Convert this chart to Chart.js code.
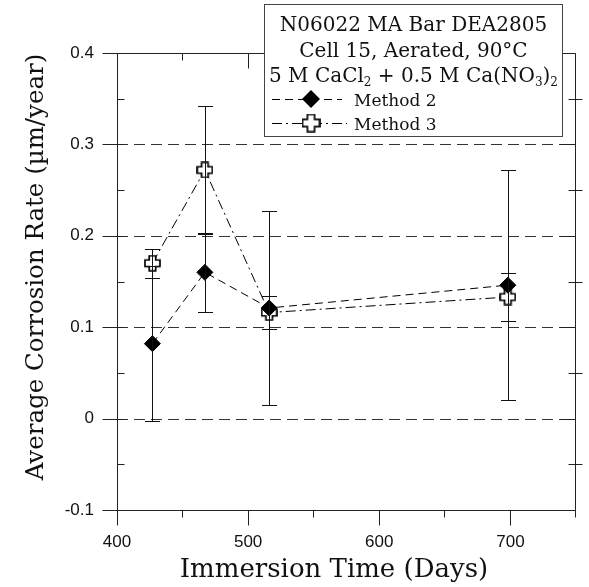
<!DOCTYPE html>
<html><head><meta charset="utf-8">
<script src="https://cdn.jsdelivr.net/npm/chart.js@4/dist/chart.umd.min.js"></script>
<style>
html,body{margin:0;padding:0;background:#fff;}
#wrap{position:relative;width:589px;height:587px;}
#c{position:absolute;left:0;top:0;}
#legend{position:absolute;left:264px;top:4px;width:297px;height:131px;border:1px solid #444;background:#fff;font-family:"DejaVu Serif",serif;color:#111;}
#legend .t{position:absolute;left:0;width:100%;text-align:center;font-size:20px;line-height:20px;white-space:nowrap;}
#legend .m{position:absolute;left:89px;font-size:17px;line-height:17px;white-space:nowrap;}
#legend sub{font-size:12px;vertical-align:-4px;line-height:0;}
#lc{position:absolute;left:0;top:0;}
</style></head>
<body>
<div id="wrap">
<canvas id="c" width="589" height="587"></canvas>
<div id="legend">
<canvas id="lc" width="297" height="131"></canvas>
<div class="t" style="top:9px">N06022 MA Bar DEA2805</div>
<div class="t" style="top:35px">Cell 15, Aerated, 90°C</div>
<div class="t" style="top:60px">5 M CaCl<sub>2</sub> + 0.5 M Ca(NO<sub>3</sub>)<sub>2</sub></div>
<div class="m" style="top:87px">Method 2</div>
<div class="m" style="top:111px">Method 3</div>
</div>
</div>
<script>
// ---- data ----
const days = [427, 467, 516, 698];
const method2 = [0.082, 0.160, 0.121, 0.146];
const method2Err = [0.085, 0.043, 0.106, 0.126];
const method3 = [0.170, 0.272, 0.116, 0.133];
const method3Err = [0.016, 0.070, 0.018, 0.026];
const xTickValues = [400, 500, 600, 700];
const xMinorValues = [450, 550, 650, 750];
const yTickValues = [-0.1, 0, 0.1, 0.2, 0.3, 0.4];
const yMinorValues = [-0.05, 0.05, 0.15, 0.25, 0.35];
const gridValues = [0, 0.1, 0.2, 0.3];
const seriesNames = ['Method 2', 'Method 3'];
const xTitle = 'Immersion Time (Days)';
const yTitle = 'Average Corrosion Rate (µm/year)';

function makeCross(s){
  const c=document.createElement('canvas'); c.width=s; c.height=s;
  const g=c.getContext('2d'); const h=s/2, a=s*0.19, e=h-1;
  g.beginPath();
  const pts=[[h-a,h-e],[h+a,h-e],[h+a,h-a],[h+e,h-a],[h+e,h+a],[h+a,h+a],[h+a,h+e],[h-a,h+e],[h-a,h+a],[h-e,h+a],[h-e,h-a],[h-a,h-a]];
  pts.forEach((p,i)=>i?g.lineTo(p[0],p[1]):g.moveTo(p[0],p[1]));
  g.closePath(); g.fillStyle='#fff'; g.fill(); g.lineWidth=1.7; g.strokeStyle='#000'; g.stroke();
  return c;
}
const crossImg = makeCross(17);
const DASH2=[8,5], DASH3=[10,4,2,4];

const frame = {
  id:'frame',
  beforeDatasetsDraw(chart){
    const {ctx, chartArea:a, scales:{y}} = chart;
    ctx.save(); ctx.strokeStyle='#333'; ctx.lineWidth=1; ctx.setLineDash([11,6]);
    gridValues.forEach(v=>{const py=Math.round(y.getPixelForValue(v))+0.5;ctx.beginPath();ctx.moveTo(a.left,py);ctx.lineTo(a.right,py);ctx.stroke();});
    ctx.restore();
  },
  afterDatasetsDraw(chart){
    const {ctx, chartArea:a, scales:{x,y}} = chart;
    ctx.save(); ctx.strokeStyle='#111'; ctx.lineWidth=1; ctx.setLineDash([]);
    const ln=(x1,y1,x2,y2)=>{ctx.beginPath();ctx.moveTo(x1,y1);ctx.lineTo(x2,y2);ctx.stroke();};
    // error bars
    [[method2,method2Err],[method3,method3Err]].forEach(([v,e])=>{
      days.forEach((d,i)=>{
        const px=Math.round(x.getPixelForValue(d))+0.5;
        const t=Math.round(y.getPixelForValue(v[i]+e[i]))+0.5, b=Math.round(y.getPixelForValue(v[i]-e[i]))+0.5;
        ln(px,t,px,b); ln(px-7.5,t,px+7.5,t); ln(px-7.5,b,px+7.5,b);
      });
    });
    const L=Math.round(a.left)+0.5, R=Math.round(a.right)-0.5, T=Math.round(a.top)+0.5, B=Math.round(a.bottom)+0.5;
    ctx.strokeStyle='#222';
    ln(L,T,R,T); ln(L,B,R,B); ln(L,T,L,B); ln(R,T,R,B);
    xTickValues.forEach(v=>{const p=Math.round(x.getPixelForValue(v))+0.5; ln(p,B,p,B+15); ln(p,T,p,T+15);});
    xMinorValues.forEach(v=>{const p=Math.round(x.getPixelForValue(v))-0.5; ln(p,B,p,B+7); if(v<750) ln(p,T,p,T+7);});
    yTickValues.forEach(v=>{const p=Math.round(y.getPixelForValue(v))+0.5; ln(L-15,p,L+7,p); ln(R-15,p,R,p);});
    yMinorValues.forEach(v=>{const p=Math.round(y.getPixelForValue(v))+0.5; ln(L,p,L+7,p); ln(R-7,p,R+7,p);});
    // axis titles
    ctx.fillStyle='#111'; ctx.textAlign='center'; ctx.textBaseline='alphabetic';
    ctx.font='26px "DejaVu Serif"';
    ctx.fillText(xTitle, 334, 577);
    ctx.translate(43, 267); ctx.rotate(-Math.PI/2);
    ctx.font='24.5px "DejaVu Serif"';
    ctx.fillText(yTitle, 0, 0);
    ctx.restore();
  }
};

new Chart(document.getElementById('c'), {
  type:'line',
  data:{datasets:[
    {label:seriesNames[0], data:days.map((d,i)=>({x:d,y:method2[i]})), borderColor:'#000', borderWidth:1, borderDash:DASH2,
     pointStyle:'rectRot', pointRadius:8, pointBackgroundColor:'#000', pointBorderColor:'#000', pointBorderWidth:1, tension:0},
    {label:seriesNames[1], data:days.map((d,i)=>({x:d,y:method3[i]})), borderColor:'#000', borderWidth:1, borderDash:DASH3,
     pointStyle:crossImg, pointRadius:8, tension:0}
  ]},
  options:{
    responsive:false, animation:false, devicePixelRatio:1,
    layout:{padding:{top:53,right:13,left:0,bottom:0}},
    plugins:{legend:{display:false}, tooltip:{enabled:false}},
    scales:{
      x:{type:'linear', min:400, max:750,
         afterBuildTicks:s=>{s.ticks=xTickValues.map(v=>({value:v}));},
         afterFit:s=>{s.height=77;},
         grid:{display:false, drawTicks:false, tickLength:0}, border:{display:false},
         ticks:{padding:22, maxRotation:0, autoSkip:false, color:'#111', font:{family:'Liberation Sans', size:17}},
         title:{display:false, text:xTitle}},
      y:{type:'linear', min:-0.1, max:0.4,
         afterBuildTicks:s=>{s.ticks=yTickValues.map(v=>({value:v}));},
         afterFit:s=>{s.width=117;},
         grid:{display:false, drawTicks:false, tickLength:0}, border:{display:false},
         ticks:{padding:23, color:'#111', font:{family:'Liberation Sans', size:17}, callback:v=>String(Math.round(v*10)/10)},
         title:{display:false, text:yTitle}}
    }
  },
  plugins:[frame]
});

// legend samples
(function(){
  const g=document.getElementById('lc').getContext('2d');
  const ox=265, oy=5; // page offset of legend interior
  g.strokeStyle='#000'; g.lineWidth=1;
  function seg(y,x1,x2,dash){g.save();g.setLineDash(dash);g.beginPath();g.moveTo(x1-ox,y-oy);g.lineTo(x2-ox,y-oy);g.stroke();g.restore();}
  seg(99.5,272,342,DASH2);
  g.beginPath(); const cx=311-ox, cy=99-oy, r=9;
  g.moveTo(cx-r,cy);g.lineTo(cx,cy-r);g.lineTo(cx+r,cy);g.lineTo(cx,cy+r);g.closePath();g.fillStyle='#000';g.fill();
  seg(123.5,272,347,DASH3);
  const cr=makeCross(19); g.drawImage(cr,311-ox-9.5,123-oy-9.5);
})();
</script>
</body></html>
